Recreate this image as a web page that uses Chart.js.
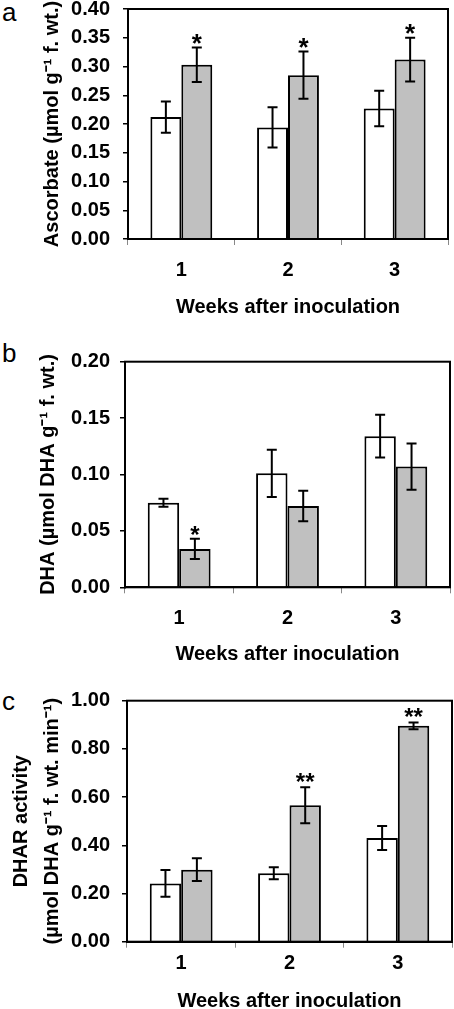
<!DOCTYPE html>
<html>
<head>
<meta charset="utf-8">
<script src="https://cdn.jsdelivr.net/npm/chart.js@4.4.1/dist/chart.umd.min.js"></script>
<style>
  body { margin: 0; background: #fff; }
  #wrap { position: relative; width: 454px; height: 1009px; overflow: hidden; }
  canvas { position: absolute; left: 0; }
  .letter { position: absolute; left: 2px; font: 26px "Liberation Sans", Arial, sans-serif; line-height: 1; color: #000; }
</style>
</head>
<body>
<div id="wrap">
  <div class="letter" style="top:-1px">a</div>
  <div class="letter" style="top:340px">b</div>
  <div class="letter" style="top:688px">c</div>
  <canvas id="chart-a" width="454" height="320" style="top:0px"></canvas>
  <canvas id="chart-b" width="454" height="352" style="top:320px"></canvas>
  <canvas id="chart-c" width="454" height="337" style="top:672px"></canvas>
</div>
<script>
// categories
const weeks = ['1', '2', '3'];

// (a) ascorbate, umol g-1 f. wt.
const ascControl = [0.212, 0.194, 0.227];
const ascControlErr = [0.027, 0.035, 0.031];
const ascInoc = [0.303, 0.285, 0.312];
const ascInocErr = [0.030, 0.041, 0.038];
const ascStars = ['*', '*', '*'];

// (b) DHA, umol DHA g-1 f. wt.
const dhaControl = [0.075, 0.101, 0.134];
const dhaControlErr = [0.0035, 0.021, 0.019];
const dhaInoc = [0.034, 0.072, 0.107];
const dhaInocErr = [0.009, 0.0135, 0.0205];
const dhaStars = ['*', '', ''];

// (c) DHAR activity
const dharControl = [0.242, 0.284, 0.430];
const dharControlErr = [0.056, 0.025, 0.050];
const dharInoc = [0.299, 0.566, 0.896];
const dharInocErr = [0.047, 0.075, 0.014];
const dharStars = ['', '**', '**'];

Chart.defaults.font.family = "'Liberation Sans', Arial, sans-serif";
Chart.defaults.color = '#000';

// box round the plot area
const frame = {
  id: 'frame',
  afterDraw(chart) {
    const a = chart.chartArea;
    const ctx = chart.ctx;
    ctx.save();
    ctx.strokeStyle = '#000';
    ctx.lineWidth = 2;
    ctx.strokeRect(a.left, a.top, a.right - a.left, a.bottom - a.top);
    ctx.restore();
  }
};

// error bars + significance stars, placed with the y scale
const errorBars = {
  id: 'errorBars',
  afterDatasetsDraw(chart, args, opts) {
    const ctx = chart.ctx;
    const y = chart.scales.y;
    chart.data.datasets.forEach((ds, i) => {
      const meta = chart.getDatasetMeta(i);
      meta.data.forEach((bar, j) => {
        const v = ds.data[j];
        const top = y.getPixelForValue(v + ds.errors[j]);
        const bot = y.getPixelForValue(v - ds.errors[j]);
        ctx.save();
        ctx.strokeStyle = '#000';
        ctx.lineWidth = 2;
        ctx.beginPath();
        ctx.moveTo(bar.x, top); ctx.lineTo(bar.x, bot);
        ctx.moveTo(bar.x - 5, top); ctx.lineTo(bar.x + 5, top);
        ctx.moveTo(bar.x - 5, bot); ctx.lineTo(bar.x + 5, bot);
        ctx.stroke();
        if (ds.stars && ds.stars[j]) {
          ctx.fillStyle = '#000';
          ctx.font = 'bold ' + opts.starSize + "px 'Liberation Sans', Arial";
          ctx.textAlign = 'center';
          ctx.textBaseline = 'alphabetic';
          ctx.fillText(ds.stars[j], bar.x, top + opts.starShift);
        }
        ctx.restore();
      });
    });
  }
};

function makeChart(id, p) {
  const ctx = document.getElementById(id).getContext('2d');
  return new Chart(ctx, {
    type: 'bar',
    data: {
      labels: weeks,
      datasets: [{
        label: 'Control',
        data: p.control,
        errors: p.controlErr,
        backgroundColor: '#ffffff',
        borderColor: '#000',
        borderWidth: 2
      }, {
        label: 'Inoculated',
        data: p.inoc,
        errors: p.inocErr,
        stars: p.stars,
        backgroundColor: '#c0c0c0',
        borderColor: '#000',
        borderWidth: 2
      }]
    },
    options: {
      responsive: false,
      animation: false,
      devicePixelRatio: 1,
      categoryPercentage: 0.58,
      barPercentage: 1.0,
      layout: { padding: { top: p.top, right: p.right, left: 0, bottom: 0 } },
      plugins: {
        legend: { display: false },
        tooltip: { enabled: false },
        errorBars: { starSize: p.starSize, starShift: p.starShift }
      },
      scales: {
        x: {
          grid: { offset: true, drawOnChartArea: false, tickLength: 6, color: '#888', lineWidth: 1 },
          border: { color: '#000', width: 2 },
          ticks: { padding: p.xTickPad, font: { size: 20, weight: 'bold', lineHeight: 1 } },
          title: {
            display: true,
            text: 'Weeks after inoculation',
            font: { size: 20, weight: 'bold', lineHeight: 0.9 },
            padding: { top: 0, bottom: p.xTitlePad }
          },
          afterFit: s => { s.height = p.xHeight; }
        },
        y: {
          min: 0,
          max: p.yMax,
          ticks: {
            stepSize: p.yStep,
            padding: p.yTickPad,
            font: { size: 20, weight: 'bold', lineHeight: 0.9 },
            callback: v => Number(v).toFixed(2)
          },
          grid: { drawOnChartArea: false, tickLength: 5, color: '#000', lineWidth: 1.5 },
          border: { color: '#000', width: 2 },
          title: {
            display: true,
            text: p.yTitle,
            font: { size: 20, weight: 'bold', lineHeight: p.yTitleLH },
            padding: { top: p.yTitlePad, bottom: 0 }
          },
          // fixed width, and no extra room above/below for the end labels
          afterFit: s => {
            s.width = p.left;
            s.paddingTop = 0;
            s.paddingBottom = 0;
          }
        }
      }
    },
    plugins: [errorBars, frame]
  });
}

makeChart('chart-a', {
  control: ascControl, controlErr: ascControlErr,
  inoc: ascInoc, inocErr: ascInocErr, stars: ascStars, starSize: 26, starShift: 4,
  yMax: 0.4, yStep: 0.05,
  yTitle: 'Ascorbate (µmol g⁻¹ f. wt.)', yTitleLH: 1.2, yTitlePad: 40,
  top: 9, right: 6, left: 128, xHeight: 81,
  xTickPad: 15, xTitlePad: 4, yTickPad: 13
});

makeChart('chart-b', {
  control: dhaControl, controlErr: dhaControlErr,
  inoc: dhaInoc, inocErr: dhaInocErr, stars: dhaStars, starSize: 24, starShift: 4,
  yMax: 0.2, yStep: 0.05,
  yTitle: 'DHA (µmol DHA g⁻¹ f. wt.)', yTitleLH: 1.2, yTitlePad: 36,
  top: 41.7, right: 4, left: 125, xHeight: 84.7,
  xTickPad: 14.7, xTitlePad: 9, yTickPad: 10
});

makeChart('chart-c', {
  control: dharControl, controlErr: dharControlErr,
  inoc: dharInoc, inocErr: dharInocErr, stars: dharStars, starSize: 24, starShift: 3,
  yMax: 1.0, yStep: 0.2,
  yTitle: ['DHAR activity', '(µmol DHA g⁻¹ f. wt. min⁻¹)'], yTitleLH: 1.55, yTitlePad: 6,
  top: 28.7, right: 2, left: 127, xHeight: 67.3,
  xTickPad: 5.5, xTitlePad: -1, yTickPad: 12
});
</script>
</body>
</html>
